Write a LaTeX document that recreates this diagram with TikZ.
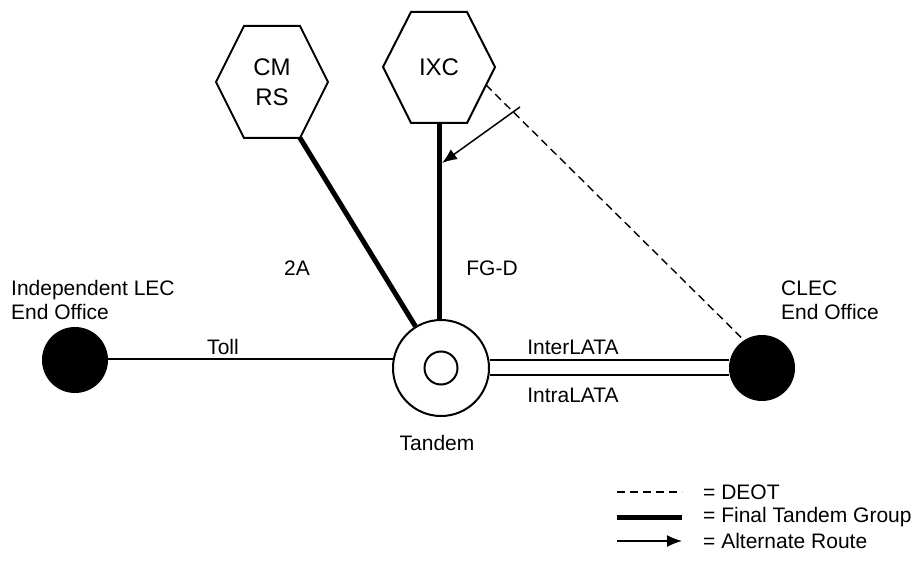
\documentclass[tikz,border=0pt]{standalone}
\usepackage{fontspec}
\setmainfont{Liberation Sans}
\usetikzlibrary{arrows.meta}
\begin{document}
\begin{tikzpicture}[x=1pt,y=-1pt,
  font=\fontsize{21}{24}\selectfont,
  office/.style={circle, fill=black, minimum size=66pt, inner sep=0pt},
  tandemring/.style={circle, draw, line width=2pt, minimum size=96pt, inner sep=0pt},
  tandemcore/.style={circle, draw, line width=2pt, minimum size=33pt, inner sep=0pt},
  hexline/.style={line width=2pt, line join=miter},
  hexlabel/.style={align=center, inner sep=0pt, font=\fontsize{24}{30}\selectfont},
  trunk/.style={line width=2pt},
  ftg/.style={line width=5pt},
  deot/.style={line width=1.4pt, dash pattern=on 8pt off 5pt},
  altroute/.style={line width=1.5pt, -{Latex[length=15pt,width=12pt]}},
  lbl/.style={inner sep=0pt}
]
\useasboundingbox (0,0) rectangle (920,564);

% hexagons
\draw[hexline] (216,82) -- (244,26) -- (300,26) -- (328,82) -- (300,138) -- (244,138) -- cycle;
\coordinate (cmBR) at (300,138);
\node[hexlabel] (cmrs) at (272,82) {CM\\RS};
\draw[hexline] (383,67) -- (411,12) -- (467,12) -- (495,67) -- (467,123) -- (411,123) -- cycle;
\coordinate (ixcB) at (439,123);
\coordinate (ixcE) at (486,85);
\node[hexlabel] (ixc) at (439,67) {IXC};

% offices
\node[office] (lec) at (75,360) {};
\node[tandemring] (tand) at (441,368) {};
\node[tandemcore] (tandin) at (441,368) {};
\node[office] (clec) at (762,368) {};

% connectors
\draw[trunk] (lec.east |- 0,359) -- (394,359) coordinate (tollend);
\draw[trunk] ([yshift=8pt]tand.east) -- ([yshift=8pt]clec.west);
\draw[trunk] ([yshift=-7pt]tand.east) -- ([yshift=-7pt]clec.west);
\draw[ftg] (cmBR) -- (tand);
\draw[ftg] (ixcB) -- (ixcB |- tand.north);
\draw[deot] (ixcE) -- (clec.123);
\coordinate (altstart) at (520,107);
\coordinate (altend) at (442,163);
\draw[altroute] (altstart) -- (altend);

% labels
\node[lbl] (l2a) at (297,268) {2A};
\node[lbl] (lfgd) at (492,268) {FG-D};
\node[lbl] (ltoll) at (223,347) {Toll};
\node[lbl] (linter) at (573,347) {InterLATA};
\node[lbl] (lintra) at (573,395) {IntraLATA};
\node[lbl] (ltand) at (437,443) {Tandem};
\node[lbl, anchor=west, align=left] (llec) at (11,300) {Independent LEC\\End Office};
\node[lbl, anchor=west, align=left] (lclec) at (781,300) {CLEC\\End Office};

% legend
\coordinate (k1a) at (617,492); \coordinate (k1b) at (682,492);
\coordinate (k2a) at (617,517); \coordinate (k2b) at (682,517);
\coordinate (k3a) at (617,541); \coordinate (k3b) at (682,541);
\draw[deot] (k1a) -- (k1b);
\draw[ftg] (k2a) -- (k2b);
\draw[altroute] (k3a) -- (k3b);
\node[lbl, anchor=west] (t1) at (703,492) {= DEOT};
\node[lbl, anchor=west] (t2) at (703,517) {= Final Tandem Group};
\node[lbl, anchor=west] (t3) at (703,541) {= Alternate Route};
\end{tikzpicture}
\end{document}
